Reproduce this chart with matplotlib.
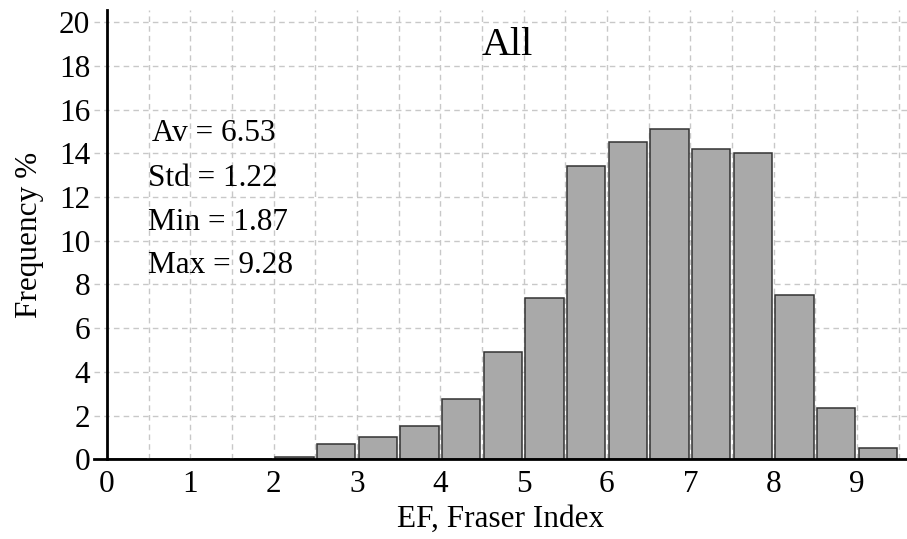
import numpy as np
import matplotlib
matplotlib.use("Agg")
import matplotlib.pyplot as plt

# histogram bins (left edge), width 0.5
bin_left = [0.0, 0.5, 1.0, 1.5, 2.0, 2.5, 3.0, 3.5, 4.0, 4.5,
            5.0, 5.5, 6.0, 6.5, 7.0, 7.5, 8.0, 8.5, 9.0]
freq_pct = [0.0, 0.0, 0.0, 0.03, 0.1, 0.69, 1.02, 1.51, 2.76, 4.91,
            7.38, 13.42, 14.54, 15.13, 14.19, 14.02, 7.53, 2.33, 0.52]

stats_lines = ["Av = 6.53", "Std = 1.22", "Min = 1.87", "Max = 9.28"]
panel_title = "All"
x_ticks = [0, 1, 2, 3, 4, 5, 6, 7, 8, 9]
y_ticks = [0, 2, 4, 6, 8, 10, 12, 14, 16, 18, 20]

plt.rcParams['font.family'] = ['Liberation Serif', 'DejaVu Serif']

fig = plt.figure(figsize=(9.07, 5.39), dpi=100)
ax = fig.add_axes([0.104, 0.148, 0.896, 0.833])

centers = np.array(bin_left) + 0.25
ax.bar(centers, freq_pct, width=0.46, color='#a9a9a9', edgecolor='#333333',
       linewidth=1.1, zorder=3)

ax.set_xlim(-0.15, 9.6)
ax.set_ylim(0, 20.55)
ax.set_xticks(x_ticks)
ax.set_yticks(y_ticks)
ax.set_xticks(np.arange(0.5, 9.6, 1.0), minor=True)

ax.grid(True, which='both', color='#c8c8c8', linestyle=(0, (4, 3)), linewidth=1.0, zorder=0)

for s in ['top', 'right']:
    ax.spines[s].set_visible(False)
ax.spines['left'].set_position(('data', 0))
ax.spines['left'].set_linewidth(2.0)
ax.spines['bottom'].set_linewidth(2.0)
ax.spines['left'].set_zorder(4)
ax.spines['bottom'].set_zorder(4)

ax.tick_params(axis='both', which='both', length=0, labelsize=22.5)
ax.tick_params(axis='x', pad=8)
ax.tick_params(axis='y', pad=12)

ax.set_xlabel("EF, Fraser Index", fontsize=22.5, labelpad=4)
ax.set_ylabel("Frequency %", fontsize=22.5, labelpad=11)

ax.text(4.8, 18.95, panel_title, fontsize=29, ha='center', va='center')

stat_x = [0.54, 0.49, 0.49, 0.49]
stat_y = [14.9, 12.86, 10.85, 8.88]
for sx, sy, txt in zip(stat_x, stat_y, stats_lines):
    ax.text(sx, sy, txt, fontsize=22.5, ha='left', va='center')

fig.savefig("out.png", dpi=100)
